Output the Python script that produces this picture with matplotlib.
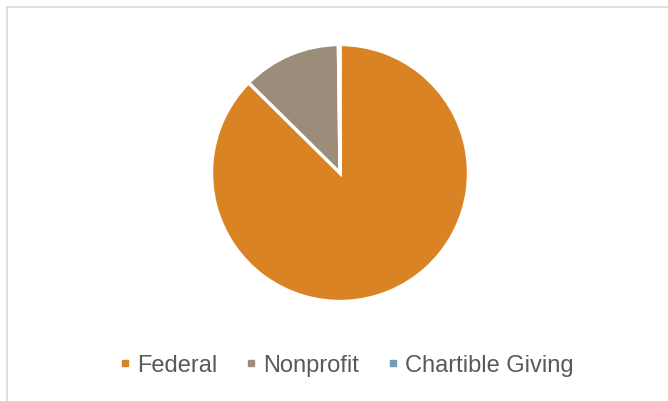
"""
Funding sources pie chart
"""

import matplotlib
matplotlib.use("Agg")
import matplotlib.pyplot as plt
from matplotlib.lines import Line2D

# ==========================================
# Data
# ==========================================

labels = ["Federal", "Nonprofit", "Chartible Giving"]
shares = [87.4, 12.4, 0.2]
colors = ["#DA8324", "#9C8D7B", "#6F9EB9"]

# ==========================================
# Figure
# ==========================================

plt.rcParams["font.family"] = ["Liberation Sans", "DejaVu Sans"]

W, H = 668, 402
fig = plt.figure(figsize=(W / 100, H / 100), dpi=100)

# chart frame
frame = fig.add_axes([6.5 / W, -0.05, 1.05, 1 - 8 / H + 0.05])
frame.set_xticks([])
frame.set_yticks([])
for side in ["right", "bottom"]:
    frame.spines[side].set_visible(False)
for side in ["top", "left"]:
    frame.spines[side].set_color("#D9D9D9")
    frame.spines[side].set_linewidth(1.2)

# pie
cx, cy, r = 340, 174, 128.5
ax = fig.add_axes([(cx - r) / W, (H - cy - r) / H, 2 * r / W, 2 * r / H])
ax.pie(
    shares,
    colors=colors,
    startangle=90,
    counterclock=False,
    wedgeprops={"edgecolor": "white", "linewidth": 2.4},
)
ax.set_xlim(-1, 1)
ax.set_ylim(-1, 1)
ax.set_aspect("auto")
ax.axis("off")

# legend
handles = [
    Line2D([], [], marker="s", linestyle="none", markersize=5,
           markerfacecolor=c, markeredgecolor=c)
    for c in colors
]
fig.legend(
    handles,
    labels,
    loc="center",
    bbox_to_anchor=(347 / W, 1 - 366 / H),
    ncol=3,
    frameon=False,
    fontsize=17,
    labelcolor="#595959",
    handlelength=0.4,
    handletextpad=0.3,
    columnspacing=1.25,
)

fig.savefig("out.png", dpi=100)
